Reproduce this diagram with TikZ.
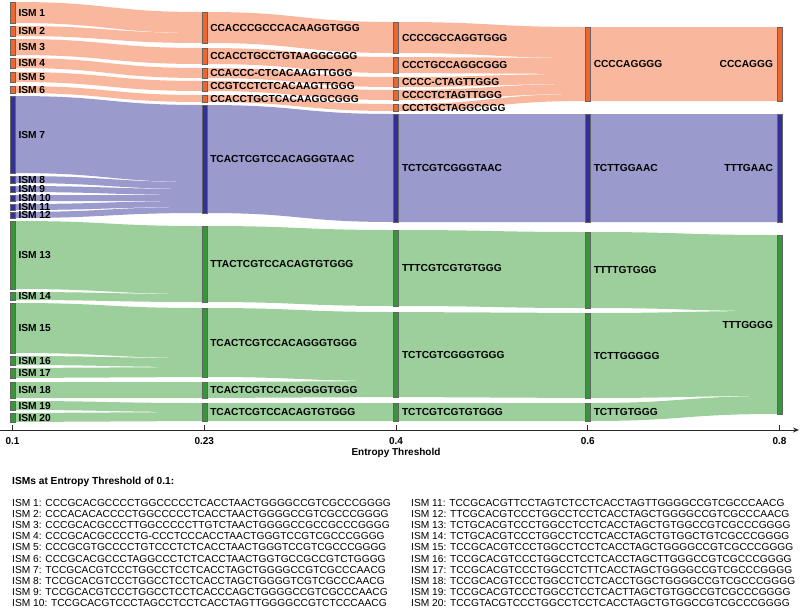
\documentclass[tikz,border=0pt]{standalone}
\usepackage{fontspec}
\setmainfont{Liberation Sans}
\usetikzlibrary{calc,arrows.meta,backgrounds}
\definecolor{orflow}{RGB}{249,184,158}
\definecolor{orbarc}{RGB}{240,100,45}
\definecolor{puflow}{RGB}{154,154,204}
\definecolor{pubarc}{RGB}{50,50,150}
\definecolor{grflow}{RGB}{156,207,156}
\definecolor{grbarc}{RGB}{55,150,55}
\definecolor{barline}{RGB}{100,100,100}
\definecolor{axisc}{RGB}{40,40,40}
\tikzset{
  barbox/.style={rectangle, draw=barline, line width=0.5pt, minimum width=5pt, inner sep=0pt, outer sep=0pt},
  orbar/.style={barbox, fill=orbarc},
  pubar/.style={barbox, fill=pubarc},
  grbar/.style={barbox, fill=grbarc},
  lbl/.style={font=\bfseries\fontsize{10.2}{12}\selectfont, inner sep=0pt, outer sep=0pt, text=black},
  lblr/.style={lbl, anchor=west, xshift=3.5pt},
  lbll/.style={lbl, anchor=east, xshift=-4pt},
  seqtxt/.style={font=\fontsize{10.2}{12}\selectfont, inner sep=0pt, anchor=west, text=black},
  ticklbl/.style={font=\bfseries\fontsize{10}{12}\selectfont, inner sep=0pt, text=black},
  axisline/.style={draw=axisc, line width=0.9pt},
}
\newcommand{\barnode}[6]{\node[#1, minimum height={#5pt-#4pt}] (#2) at (#3, {(#4+#5)/2}) {};
  \node[lblr] (#2l) at (#2.east) {#6};}
\newcommand{\barnodeL}[6]{\node[#1, minimum height={#5pt-#4pt}] (#2) at (#3, {(#4+#5)/2}) {};
  \node[lbll] (#2l) at (#2.west) {#6};}
\newcommand{\flowband}[4]{%
  \fill[#4] let \p1=(#1.north east), \p2=(#1.south east), \p3=(#2.north west),
    \n1={\y3-#3pt}, \n2={\n1-\y1+\y2}, \n3={(\x1+\x3)/2}
  in (\p1) .. controls (\n3,\y1) and (\n3,\n1) .. (\x3,\n1) -- (\x3,\n2)
     .. controls (\n3,\n2) and (\n3,\y2) .. (\p2) -- cycle;}
\begin{document}
\begin{tikzpicture}[x=1pt,y=-1pt]
\useasboundingbox (0,0) rectangle (800,611);
\def\cA{12.5}\def\cB{204.25}\def\cC{396}\def\cD{587.75}\def\cE{779.5}
% ---------- column 1 ----------
\barnode{orbar}{n1}{\cA}{2}{23}{ISM 1}
\barnode{orbar}{n2}{\cA}{26}{36}{ISM 2}
\barnode{orbar}{n3}{\cA}{39}{55}{ISM 3}
\barnode{orbar}{n4}{\cA}{58}{68}{ISM 4}
\barnode{orbar}{n5}{\cA}{72}{82}{ISM 5}
\barnode{orbar}{n6}{\cA}{86}{93}{ISM 6}
\barnode{pubar}{n7}{\cA}{96}{173}{ISM 7}
\barnode{pubar}{n8}{\cA}{176}{183}{ISM 8}
\barnode{pubar}{n9}{\cA}{186}{192}{ISM 9}
\barnode{pubar}{n10}{\cA}{195}{201}{ISM 10}
\barnode{pubar}{n11}{\cA}{204}{210}{ISM 11}
\barnode{pubar}{n12}{\cA}{212}{218}{ISM 12}
\barnode{grbar}{n13}{\cA}{221}{289}{ISM 13}
\barnode{grbar}{n14}{\cA}{292}{300}{ISM 14}
\barnode{grbar}{n15}{\cA}{303}{353}{ISM 15}
\barnode{grbar}{n16}{\cA}{356}{365}{ISM 16}
\barnode{grbar}{n17}{\cA}{368}{378}{ISM 17}
\barnode{grbar}{n18}{\cA}{382}{398}{ISM 18}
\barnode{grbar}{n19}{\cA}{401}{410}{ISM 19}
\barnode{grbar}{n20}{\cA}{413}{422}{ISM 20}
% ---------- column 2 ----------
\barnode{orbar}{bA}{\cB}{12}{43}{CCACCCGCCCACAAGGTGGG}
\barnode{orbar}{bB}{\cB}{48}{64}{CCACCTGCCTGTAAGGCGGG}
\barnode{orbar}{bC}{\cB}{68}{78}{CCACCC-CTCACAAGTTGGG}
\barnode{orbar}{bD}{\cB}{81}{91}{CCGTCCTCTCACAAGTTGGG}
\barnode{orbar}{bE}{\cB}{95}{102}{CCACCTGCTCACAAGGCGGG}
\barnode{pubar}{bF}{\cB}{105}{213}{TCACTCGTCCACAGGGTAAC}
\barnode{grbar}{bG}{\cB}{226}{302}{TTACTCGTCCACAGTGTGGG}
\barnode{grbar}{bH}{\cB}{308}{377}{TCACTCGTCCACAGGGTGGG}
\barnode{grbar}{bI}{\cB}{382}{398}{TCACTCGTCCACGGGGTGGG}
\barnode{grbar}{bJ}{\cB}{403}{421}{TCACTCGTCCACAGTGTGGG}
% ---------- column 3 ----------
\barnode{orbar}{cK}{\cC}{22}{53}{CCCCGCCAGGTGGG}
\barnode{orbar}{cL}{\cC}{57}{73}{CCCTGCCAGGCGGG}
\barnode{orbar}{cM}{\cC}{77}{87}{CCCC-CTAGTTGGG}
\barnode{orbar}{cN}{\cC}{90}{100}{CCCCTCTAGTTGGG}
\barnode{orbar}{cO}{\cC}{104}{111}{CCCTGCTAGGCGGG}
\barnode{pubar}{cP}{\cC}{114}{222}{TCTCGTCGGGTAAC}
\barnode{grbar}{cQ}{\cC}{230}{306}{TTTCGTCGTGTGGG}
\barnode{grbar}{cR}{\cC}{312}{397}{TCTCGTCGGGTGGG}
\barnode{grbar}{cS}{\cC}{403}{421}{TCTCGTCGTGTGGG}
% ---------- column 4 ----------
\barnode{orbar}{dT}{\cD}{27}{101}{CCCCAGGGG}
\barnode{pubar}{dU}{\cD}{114}{222}{TCTTGGAAC}
\barnode{grbar}{dV}{\cD}{232}{308}{TTTTGTGGG}
\barnode{grbar}{dW}{\cD}{313}{398}{TCTTGGGGG}
\barnode{grbar}{dX}{\cD}{403}{421}{TCTTGTGGG}
% ---------- column 5 ----------
\barnodeL{orbar}{eY}{\cE}{27}{101}{CCCAGGG}
\barnodeL{pubar}{eZ}{\cE}{114}{222}{TTTGAAC}
\barnodeL{grbar}{eAA}{\cE}{235}{414}{TTTGGGG}
% ---------- flows (behind) ----------
\begin{scope}[on background layer]
\flowband{n1}{bA}{0}{orflow}
\flowband{n2}{bA}{21}{orflow}
\flowband{n3}{bB}{0}{orflow}
\flowband{n4}{bC}{0}{orflow}
\flowband{n5}{bD}{0}{orflow}
\flowband{n6}{bE}{0}{orflow}
\flowband{n7}{bF}{0}{puflow}
\flowband{n8}{bF}{77}{puflow}
\flowband{n9}{bF}{84}{puflow}
\flowband{n10}{bF}{90}{puflow}
\flowband{n11}{bF}{96}{puflow}
\flowband{n12}{bF}{102}{puflow}
\flowband{n13}{bG}{0}{grflow}
\flowband{n14}{bG}{68}{grflow}
\flowband{n15}{bH}{0}{grflow}
\flowband{n16}{bH}{50}{grflow}
\flowband{n17}{bH}{59}{grflow}
\flowband{n18}{bI}{0}{grflow}
\flowband{n19}{bJ}{0}{grflow}
\flowband{n20}{bJ}{9}{grflow}
%
\flowband{bA}{cK}{0}{orflow}
\flowband{bB}{cL}{0}{orflow}
\flowband{bC}{cM}{0}{orflow}
\flowband{bD}{cN}{0}{orflow}
\flowband{bE}{cO}{0}{orflow}
\flowband{bF}{cP}{0}{puflow}
\flowband{bG}{cQ}{0}{grflow}
\flowband{bH}{cR}{0}{grflow}
\flowband{bI}{cR}{69}{grflow}
\flowband{bJ}{cS}{0}{grflow}
%
\flowband{cK}{dT}{0}{orflow}
\flowband{cL}{dT}{31}{orflow}
\flowband{cM}{dT}{47}{orflow}
\flowband{cN}{dT}{57}{orflow}
\flowband{cO}{dT}{67}{orflow}
\flowband{cP}{dU}{0}{puflow}
\flowband{cQ}{dV}{0}{grflow}
\flowband{cR}{dW}{0}{grflow}
\flowband{cS}{dX}{0}{grflow}
%
\flowband{dT}{eY}{0}{orflow}
\flowband{dU}{eZ}{0}{puflow}
\flowband{dV}{eAA}{0}{grflow}
\flowband{dW}{eAA}{76}{grflow}
\flowband{dX}{eAA}{161}{grflow}
\end{scope}
% ---------- axis ----------
\coordinate (ax0) at (0,430);
\coordinate (ax1) at (799,430);
\draw[axisline, -{Stealth[length=6pt,width=5pt]}] (ax0) -- (ax1);
\foreach \xx/\tt/\nm in {\cA/0.1/t1, \cB/0.23/t2, \cC/0.4/t3, \cD/0.6/t4, \cE/0.8/t5}{
  \coordinate (\nm) at (\xx,430);
  \draw[axisline] (\nm) -- ++(0,-5);
  \node[ticklbl] (\nm l) at (\xx,441) {\tt};
}
\node[ticklbl] (axtitle) at (396,453) {Entropy Threshold};
% ---------- sequence list ----------
\node[seqtxt, font=\bfseries\fontsize{10.2}{12}\selectfont] (hdr) at (12,482) {ISMs at Entropy Threshold of 0.1:};
\node[seqtxt] (s1) at (12,503) {ISM 1: CCCGCACGCCCCTGGCCCCCTCACCTAACTGGGGCCGTCGCCCGGGG};
\node[seqtxt] (s2) at (12,514.1) {ISM 2: CCCACACACCCCTGGCCCCCTCACCTAACTGGGGCCGTCGCCCGGGG};
\node[seqtxt] (s3) at (12,525.2) {ISM 3: CCCGCACGCCCTTGGCCCCCTTGTCTAACTGGGGCCGCCGCCCGGGG};
\node[seqtxt] (s4) at (12,536.3) {ISM 4: CCCGCACGCCCCTG-CCCTCCCACCTAACTGGGTCCGTCGCCCGGGG};
\node[seqtxt] (s5) at (12,547.4) {ISM 5: CCCGCGTGCCCCTGTCCCTCTCACCTAACTGGGTCCGTCGCCCGGGG};
\node[seqtxt] (s6) at (12,558.5) {ISM 6: CCCGCACGCCCTAGGCCCTCTCACCTAACTGGTGCCGCCGTCTGGGG};
\node[seqtxt] (s7) at (12,569.6) {ISM 7: TCCGCACGTCCCTGGCCTCCTCACCTAGCTGGGGCCGTCGCCCAACG};
\node[seqtxt] (s8) at (12,580.7) {ISM 8: TCCGCACGTCCCTGGCCTCCTCACCTAGCTGGGGTCGTCGCCCAACG};
\node[seqtxt] (s9) at (12,591.8) {ISM 9: TCCGCACGTCCCTGGCCTCCTCACCCAGCTGGGGCCGTCGCCCAACG};
\node[seqtxt] (s10) at (12,602.9) {ISM 10: TCCGCACGTCCCTAGCCTCCTCACCTAGTTGGGGCCGTCTCCCAACG};
\node[seqtxt] (s11) at (411,503) {ISM 11: TCCGCACGTTCCTAGTCTCCTCACCTAGTTGGGGCCGTCGCCCAACG};
\node[seqtxt] (s12) at (411,514.1) {ISM 12: TTCGCACGTCCCTGGCCTCCTCACCTAGCTGGGGCCGTCGCCCAACG};
\node[seqtxt] (s13) at (411,525.2) {ISM 13: TCTGCACGTCCCTGGCCTCCTCACCTAGCTGTGGCCGTCGCCCGGGG};
\node[seqtxt] (s14) at (411,536.3) {ISM 14: TCTGCACGTCCCTGGCCTCCTCACCTAGCTGTGGCTGTCGCCCGGGG};
\node[seqtxt] (s15) at (411,547.4) {ISM 15: TCCGCACGTCCCTGGCCTCCTCACCTAGCTGGGGCCGTCGCCCGGGG};
\node[seqtxt] (s16) at (411,558.5) {ISM 16: TCCGCACGTCCCTGGCCTCCTCACCTAGCTTGGGCCGTCGCCCGGGG};
\node[seqtxt] (s17) at (411,569.6) {ISM 17: TCCGCACGTCCCTGGCCTCTTCACCTAGCTGGGGCCGTCGCCCGGGG};
\node[seqtxt] (s18) at (411,580.7) {ISM 18: TCCGCACGTCCCTGGCCTCCTCACCTGGCTGGGGCCGTCGCCCGGGG};
\node[seqtxt] (s19) at (411,591.8) {ISM 19: TCCGCACGTCCCTGGCCTCCTCACTTAGCTGTGGCCGTCGCCCGGGG};
\node[seqtxt] (s20) at (411,602.9) {ISM 20: TCCGTACGTCCCTGGCCTCCTCACCTAGCTGTGGCCGTCGCCCGGGG};
\end{tikzpicture}
\end{document}
